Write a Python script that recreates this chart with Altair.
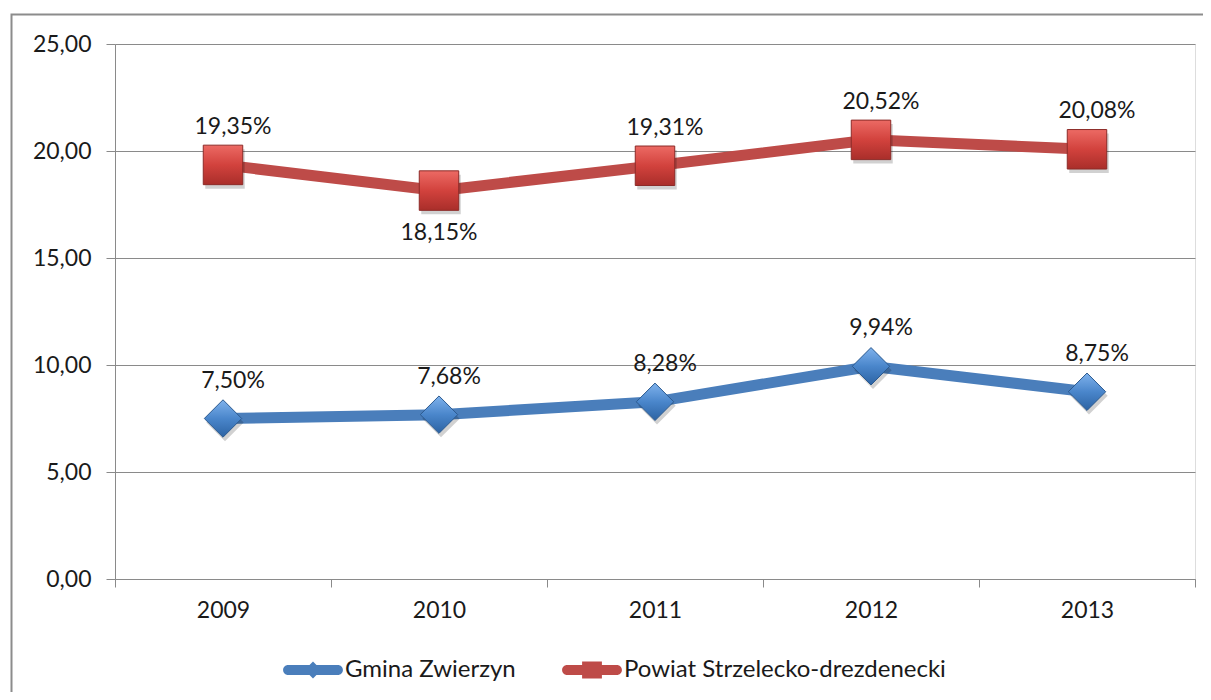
import altair as alt
import pandas as pd

years = ["2009", "2010", "2011", "2012", "2013"]
gmina = [7.50, 7.68, 8.28, 9.94, 8.75]
powiat = [19.35, 18.15, 19.31, 20.52, 20.08]
series_names = ["Gmina Zwierzyn", "Powiat Strzelecko-drezdenecki"]
y_ticks = [0, 5, 10, 15, 20, 25]

rows = []
for name, vals in zip(series_names, [gmina, powiat]):
    for y, v in zip(years, vals):
        rows.append({"year": y, "value": v, "series": name})
df = pd.DataFrame(rows)

BLUE_LINE = "#4A7EBB"
RED_LINE = "#BE4B48"
FONT = "Lato"
TXT = "#1a1a1a"
GRID = "#8a8a8a"

base = alt.Chart(df).transform_calculate(
    label="replace(format(datum.value, '.2f'), '.', ',') + '%'"
).encode(
    x=alt.X("year:N", title=None, bandPosition=0.5,
            scale=alt.Scale(type="band", paddingInner=0, paddingOuter=0),
            axis=alt.Axis(labelAngle=0, tickBand="extent", tickSize=8, labelPadding=12,
                          grid=False, domainColor=GRID, tickColor=GRID,
                          labelFont=FONT, labelFontSize=23, labelColor=TXT)),
    y=alt.Y("value:Q", title=None, scale=alt.Scale(domain=[0, 25]),
            axis=alt.Axis(values=y_ticks, labelExpr="replace(format(datum.value, '.2f'), '.', ',')",
                          grid=True, gridColor=GRID, gridWidth=1, domainColor=GRID,
                          tickColor=GRID, tickSize=9, labelPadding=15,
                          labelFont=FONT, labelFontSize=23, labelColor=TXT)),
)

def sel(name):
    return alt.datum.series == name

red_line = base.transform_filter(sel(series_names[1])).mark_line(color=RED_LINE, strokeWidth=11)
blue_line = base.transform_filter(sel(series_names[0])).mark_line(color=BLUE_LINE, strokeWidth=11)

red_grad = alt.Gradient(gradient="linear", x1=0, y1=0, x2=0, y2=1,
                        stops=[alt.GradientStop(color="#ec6a64", offset=0),
                               alt.GradientStop(color="#d2423d", offset=0.5),
                               alt.GradientStop(color="#a92e2a", offset=1)])
blue_grad = alt.Gradient(gradient="linear", x1=0, y1=0, x2=0, y2=1,
                         stops=[alt.GradientStop(color="#7fb2ec", offset=0),
                                alt.GradientStop(color="#4a86cb", offset=0.5),
                                alt.GradientStop(color="#2c63a3", offset=1)])

red_shadow = base.transform_filter(sel(series_names[1])).mark_point(
    shape="square", filled=True, size=1560, color="#000000", opacity=0.18, xOffset=2, yOffset=4)
blue_shadow = base.transform_filter(sel(series_names[0])).mark_point(
    shape="diamond", filled=True, size=1400, color="#000000", opacity=0.18, xOffset=2, yOffset=4)

red_pts = base.transform_filter(sel(series_names[1])).mark_point(
    shape="square", filled=True, size=1560, fill=red_grad, stroke="#8c2b28", strokeWidth=1, opacity=1)
blue_pts = base.transform_filter(sel(series_names[0])).mark_point(
    shape="diamond", filled=True, size=1400, fill=blue_grad, stroke="#2c5a8f", strokeWidth=1, opacity=1)

is_below = "datum.series == '" + series_names[1] + "' && datum.year == '2010'"
labels_above = base.transform_filter("!(" + is_below + ")").mark_text(
    dy=-38, dx=10, font=FONT, fontSize=23, color=TXT).encode(text="label:N")
labels_below = base.transform_filter(is_below).mark_text(
    dy=42, dx=0, font=FONT, fontSize=23, color=TXT).encode(text="label:N")

leg = alt.Legend(orient="none", legendX=168, legendY=596, direction="horizontal", title=None,
                 symbolSize=3600, symbolOpacity=1, symbolStrokeWidth=0, padding=0,
                 labelFont=FONT, labelFontSize=24, labelColor=TXT, labelOffset=2,
                 columnPadding=46, labelLimit=500)
bar = "M-0.83,-0.167L0.83,-0.167A0.167,0.167 0 0 1 0.83,0.167L-0.83,0.167A0.167,0.167 0 0 1 -0.83,-0.167Z"
path_blue = bar + " M0,-0.28L0.28,0L0,0.28L-0.28,0Z"
path_red = bar + " M-0.33,-0.28L0.33,-0.28L0.33,0.28L-0.33,0.28Z"
legend_layer = base.mark_point(filled=True, opacity=0).encode(
    color=alt.Color("series:N", scale=alt.Scale(domain=series_names, range=[BLUE_LINE, RED_LINE]), legend=leg),
    shape=alt.Shape("series:N", scale=alt.Scale(domain=series_names, range=[path_blue, path_red]), legend=leg),
)

frame = alt.Chart(pd.DataFrame({"a": [0]})).mark_rect(
    fillOpacity=0, stroke="#8c8c8c", strokeWidth=2).encode(
    x=alt.value(-103.5), x2=alt.value(1110), y=alt.value(-29.5), y2=alt.value(720))

chart = alt.layer(
    frame, red_line, blue_line, red_shadow, blue_shadow, red_pts, blue_pts,
    labels_above, labels_below, legend_layer
).properties(
    width=1080, height=535,
    autosize=alt.AutoSizeParams(type="none"),
    padding={"left": 107, "top": 36, "right": 8, "bottom": 113},
).configure_view(stroke=None).configure(background="white")

chart.save("out.html", embed_options={"renderer": "svg", "actions": False})
